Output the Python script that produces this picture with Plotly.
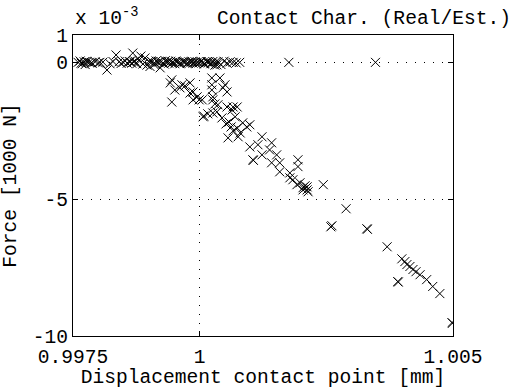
import plotly.graph_objects as go

# Displacement contact point [mm] (flat part near zero force)
band_x = [0.99760, 0.99764, 0.99768, 0.99772, 0.99774, 0.99778, 0.99782, 0.99788, 0.99794, 0.99800,
          0.99803, 0.99809, 0.99817, 0.99823, 0.99829, 0.99835, 0.99841, 0.99845, 0.99849, 0.99853,
          0.99857, 0.99863, 0.99868, 0.99872, 0.99876, 0.99880, 0.99884, 0.99888, 0.99892, 0.99896,
          0.99900, 0.99902, 0.99906, 0.99910, 0.99914, 0.99918, 0.99922, 0.99924, 0.99928, 0.99932,
          0.99936, 0.99939, 0.99943, 0.99947, 0.99951, 0.99955, 0.99959, 0.99963, 0.99967, 0.99971,
          0.99975, 0.99979, 0.99983, 0.99987, 0.99991, 0.99995, 0.99999, 1.00003, 1.00007, 1.00010,
          1.00014, 1.00018, 1.00022, 1.00026, 1.00030, 1.00036, 1.00042, 1.00048, 1.00054, 1.00060,
          1.00066, 1.00072, 1.00079, 1.00176, 1.00347,
          0.99904, 0.99912, 0.99920, 0.99930, 0.99938, 0.99945, 0.99953, 0.99961, 0.99969, 0.99977,
          0.99985, 0.99993, 1.00001, 1.00009, 1.00016, 1.00024, 1.00032,
          0.99766, 0.99776, 0.99786, 0.99861, 0.99866, 0.99870]
band_y = [0.00, 0.05, -0.05, 0.02, -0.08, 0.03, 0.00, -0.03, 0.02, -0.02,
          0.00, 0.01, -0.28, -0.05, 0.03, 0.27, 0.02, -0.04, 0.00, 0.05,
          -0.03, 0.02, 0.34, 0.05, -0.05, 0.08, 0.23, -0.06, 0.16, -0.10,
          0.04, -0.15, 0.02, -0.08, 0.05, 0.00, -0.20, 0.03, -0.04, 0.06,
          0.00, -0.03, 0.04, 0.00, -0.05, 0.02, 0.00, -0.03, 0.03, 0.00,
          -0.04, 0.02, 0.00, -0.03, 0.02, 0.00, -0.02, 0.03, 0.00, -0.04,
          0.02, 0.00, -0.05, 0.03, -0.10, 0.02, -0.08, 0.04, -0.03, 0.02,
          0.00, -0.02, 0.00, 0.00, 0.00,
          0.05, -0.04, 0.03, -0.06, 0.04, -0.02, 0.05, -0.05, 0.02, -0.03,
          0.04, -0.05, 0.02, -0.06, 0.03, -0.04, 0.02,
          -0.03, 0.04, -0.02, 0.03, -0.03, 0.01]

# Contact branch (force building up)
fall_x = [0.99942, 0.99945, 0.99945, 0.99951, 0.99961, 0.99965, 0.99971, 0.99981, 0.99981, 0.99987,
          0.99987, 0.99995, 0.99999, 1.00005, 1.00007, 1.00008, 1.00016, 1.00024, 1.00024, 1.00024,
          1.00026, 1.00026, 1.00026, 1.00030, 1.00034, 1.00036, 1.00040, 1.00034, 1.00046, 1.00050,
          1.00054, 1.00054, 1.00064, 1.00066, 1.00070, 1.00074, 1.00085, 1.00093, 1.00099, 1.00056,
          1.00076, 1.00099, 1.00105, 1.00106, 1.00115, 1.00123, 1.00123, 1.00138, 1.00142, 1.00142,
          1.00152, 1.00158, 1.00158, 1.00178, 1.00178, 1.00184, 1.00194, 1.00194, 1.00192, 1.00198,
          1.00204, 1.00204, 1.00212, 1.00212, 1.00214, 1.00208, 1.00244, 1.00289, 1.00259, 1.00261,
          1.00330, 1.00331, 1.00370, 1.00399, 1.00405, 1.00409, 1.00415, 1.00421, 1.00427, 1.00435,
          1.00448, 1.00460, 1.00474, 1.00391, 1.00392, 1.00498, 1.00499,
          1.00044, 1.00052, 1.00058, 1.00062, 1.00066, 1.00074, 1.00080]
fall_y = [-0.75, -1.45, -0.64, -1.01, -0.93, -0.82, -0.86, -0.75, -1.12, -1.08,
          -1.37, -1.26, -1.37, -1.37, -1.99, -1.96, -1.88, -0.57, -0.82, -1.01,
          -1.26, -1.37, -1.85, -1.52, -1.81, -1.55, -0.57, -0.09, -0.93, -0.82,
          -1.08, -1.63, -1.74, -1.63, -1.99, -1.63, -2.21, -2.36, -2.28, -2.76,
          -2.72, -3.09, -3.56, -3.58, -3.01, -2.72, -3.38, -3.20, -2.94, -3.67,
          -3.38, -3.67, -4.00, -4.04, -4.22, -4.29, -3.56, -3.81, -4.47, -4.40,
          -4.58, -4.66, -4.55, -4.66, -4.73, -4.51, -4.47, -5.35, -6.01, -5.97,
          -6.08, -6.10, -6.74, -7.18, -7.28, -7.39, -7.46, -7.57, -7.65, -7.76,
          -7.94, -8.19, -8.45, -8.01, -8.03, -9.51, -9.53,
          -2.03, -2.25, -2.18, -2.36, -2.50, -2.40, -2.58]

x_ticks = [0.9975, 1, 1.005]
x_ticktext = ["0.9975", "1", "1.005"]
y_ticks = [-10, -5, 0, 1]
y_ticktext = ["-10", "-5", "0", "1"]

FONT = "Liberation Mono, Courier New, monospace"
FS = 19.6

fig = go.Figure()
fig.add_trace(go.Scatter(
    x=band_x + fall_x, y=band_y + fall_y, mode="markers",
    marker=dict(symbol="x-thin", size=9, color="black",
                line=dict(color="black", width=1)),
    showlegend=False, hoverinfo="skip"))

axis_common = dict(
    showline=True, linecolor="black", linewidth=1, mirror="ticks",
    ticks="inside", ticklen=5, tickcolor="black", tickwidth=1,
    showgrid=True, gridcolor="black", gridwidth=1, griddash="1px,8px",
    zeroline=False, tickfont=dict(family=FONT, size=FS, color="black"),
    automargin=False,
)

fig.update_xaxes(range=[0.9975, 1.005], tickvals=x_ticks, ticktext=x_ticktext,
                 ticklabelstandoff=2,
                 title=dict(text="Displacement contact point [mm]",
                            font=dict(family=FONT, size=FS, color="black"), standoff=2),
                 **axis_common)
fig.update_yaxes(range=[-10, 1], tickvals=y_ticks, ticktext=y_ticktext,
                 title=dict(text="Force [1000 N]",
                            font=dict(family=FONT, size=FS, color="black"), standoff=12),
                 **axis_common)

fig.add_annotation(xref="paper", yref="paper", x=0.0, y=1.0, xanchor="left", yanchor="bottom",
                   yshift=3, text="x 10<sup>-3</sup>", showarrow=False,
                   font=dict(family=FONT, size=FS, color="black"))
fig.add_annotation(xref="paper", yref="paper", x=(215 - 73) / 380, y=1.0, xanchor="left",
                   yanchor="bottom", yshift=3, text="Contact Char. (Real/Est.)", showarrow=False,
                   font=dict(family=FONT, size=FS, color="black"))

fig.update_layout(
    width=515, height=389,
    margin=dict(l=73, r=62, t=35, b=53),
    paper_bgcolor="white", plot_bgcolor="white",
    font=dict(family=FONT, size=FS, color="black"),
)

fig.write_html("out.html")
